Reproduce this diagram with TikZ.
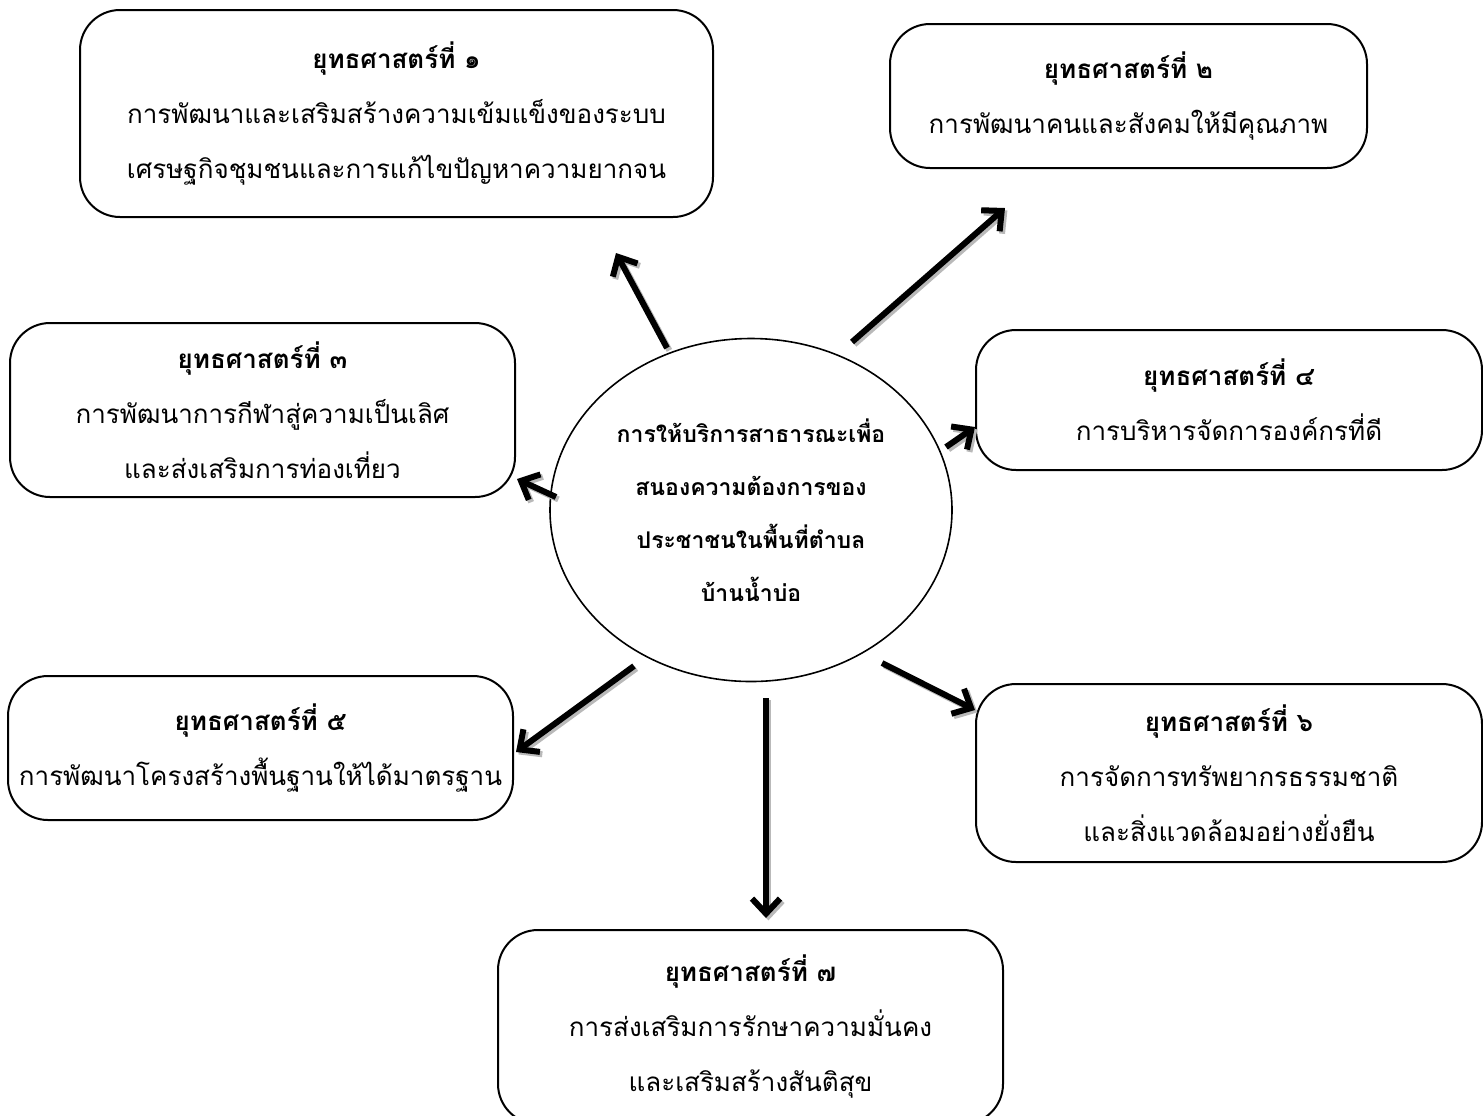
\documentclass[tikz,border=0pt]{standalone}
\usepackage{fontspec}
\newfontfamily\thaifont[Script=Thai]{Loma}
\usetikzlibrary{arrows.meta,shapes.geometric}

\begin{document}
\begin{tikzpicture}[x=0.5pt,y=-0.5pt,
  plan/.style={draw,line width=1pt,rounded corners=20pt,align=center,inner sep=0pt,font=\thaifont\fontsize{13}{27.5}\selectfont},
  hub/.style={ellipse,draw,line width=0.8pt,align=center,inner sep=0pt,font=\thaifont\bfseries\fontsize{11.5}{26.5}\selectfont},
  push/.style={line width=3pt,-{Straight Barb[length=7.5pt,width=14pt]}},
  pushshade/.style={push,gray!55,transform canvas={xshift=1.2pt,yshift=-1.2pt}},
 ]
 \useasboundingbox (0,0) rectangle (1483,1115);

 \node[hub,minimum width=201pt,minimum height=171.5pt] (hub) at (751,510) {การให้บริการสาธารณะเพื่อ\\สนองความต้องการของ\\ประชาชนในพื้นที่ตำบล\\บ้านน้ำบ่อ};

 \node[plan,minimum width=316.5pt,minimum height=103.5pt] (p1) at (396.5,113.5) {\textbf{ยุทธศาสตร์ที่ ๑}\\การพัฒนาและเสริมสร้างความเข้มแข็งของระบบ\\เศรษฐกิจชุมชนและการแก้ไขปัญหาความยากจน};
 \node[plan,minimum width=238.5pt,minimum height=72pt] (p2) at (1128.5,96) {\textbf{ยุทธศาสตร์ที่ ๒}\\การพัฒนาคนและสังคมให้มีคุณภาพ};
 \node[plan,minimum width=252.5pt,minimum height=87pt] (p3) at (262.5,410) {\textbf{ยุทธศาสตร์ที่ ๓}\\การพัฒนาการกีฬาสู่ความเป็นเลิศ\\และส่งเสริมการท่องเที่ยว};
 \node[plan,minimum width=253pt,minimum height=70pt] (p4) at (1229,400) {\textbf{ยุทธศาสตร์ที่ ๔}\\การบริหารจัดการองค์กรที่ดี};
 \node[plan,minimum width=252.5pt,minimum height=72pt] (p5) at (260.5,748) {\textbf{ยุทธศาสตร์ที่ ๕}\\การพัฒนาโครงสร้างพื้นฐานให้ได้มาตรฐาน};
 \node[plan,minimum width=253pt,minimum height=89pt] (p6) at (1229,773) {\textbf{ยุทธศาสตร์ที่ ๖}\\การจัดการทรัพยากรธรรมชาติ\\และสิ่งแวดล้อมอย่างยั่งยืน};
 \node[plan,minimum width=252.5pt,minimum height=97pt] (p7) at (750.5,1027) {\textbf{ยุทธศาสตร์ที่ ๗}\\การส่งเสริมการรักษาความมั่นคง\\และเสริมสร้างสันติสุข};

 % arrow ends
 \coordinate (s1) at (667,348); \coordinate (e1) at (616,253);
 \coordinate (s2) at (852,342); \coordinate (e2) at (1005,208);
 \coordinate (s3) at (556,497); \coordinate (e3) at (517,479);
 \coordinate (s4) at (946,447); \coordinate (e4) at (975,427);
 \coordinate (s5) at (634,666); \coordinate (e5) at (516,752);
 \coordinate (s6) at (882,663); \coordinate (e6) at (975,710);
 \coordinate (s7) at (766,698); \coordinate (e7) at (766,918);

 \draw[pushshade] (s1) -- (e1);
 \draw[pushshade] (s2) -- (e2);
 \draw[pushshade] (s3) -- (e3);
 \draw[pushshade] (s4) -- (e4);
 \draw[pushshade] (s5) -- (e5);
 \draw[pushshade] (s6) -- (e6);
 \draw[pushshade] (s7) -- (e7);

 \draw[push] (s1) -- (e1);
 \draw[push] (s2) -- (e2);
 \draw[push] (s3) -- (e3);
 \draw[push] (s4) -- (e4);
 \draw[push] (s5) -- (e5);
 \draw[push] (s6) -- (e6);
 \draw[push] (s7) -- (e7);

\end{tikzpicture}
\end{document}
